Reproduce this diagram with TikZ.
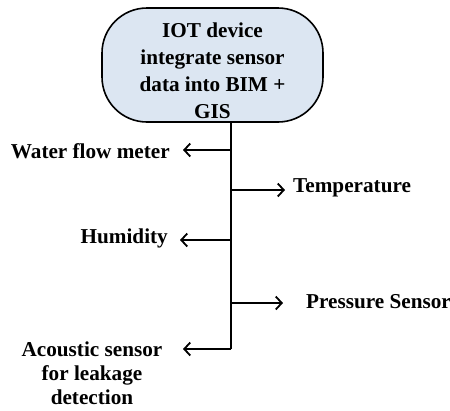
\documentclass[tikz,border=0pt]{standalone}
\usepackage{fontspec}
\setmainfont{Liberation Serif}
\usetikzlibrary{arrows.meta}
\definecolor{boxfill}{HTML}{DCE6F2}
\tikzset{
  box/.style={draw=black, line width=1.6pt, fill=boxfill, rounded corners=45pt,
    minimum width=221pt, minimum height=114pt, inner sep=0pt, align=center,
    font=\fontsize{21.2}{27}\selectfont\bfseries},
  lbl/.style={inner sep=0pt, font=\fontsize{21.2}{24}\selectfont\bfseries},
  conn/.style={line width=1.8pt},
  arr/.style={line width=1.8pt, -{Straight Barb[length=6pt,width=13pt,line width=1.8pt]}}
}
\begin{document}
\begin{tikzpicture}[x=1pt,y=-1pt]
\useasboundingbox (0,0) rectangle (450,410);
\node[box] (iot) at (212.5,65) {\rule{0pt}{26pt}IOT device\\integrate sensor\\data into BIM +\\GIS};
\coordinate (b1) at (231,150);
\coordinate (b2) at (231,190);
\coordinate (b3) at (231,240);
\coordinate (b4) at (231,303);
\coordinate (b5) at (231,349);
\coordinate (e1) at (183,150);
\coordinate (e2) at (285,190);
\coordinate (e3) at (180,240);
\coordinate (e4) at (283,303);
\coordinate (e5) at (183,349);
\draw[conn] (iot.south -| b5) -- (b5);
\node[lbl, anchor=east] (wfm) at (170,151) {Water flow meter};
\node[lbl, anchor=west] (temp) at (293,188) {Temperature};
\node[lbl, anchor=east] (hum) at (168,238) {Humidity};
\node[lbl, anchor=west] (pres) at (306,302) {Pressure Sensor};
\node[lbl, anchor=north, align=center] (acou) at (92,342) {Acoustic sensor\\for leakage\\detection};
\draw[arr] (b1) -- (e1);
\draw[arr] (b2) -- (e2);
\draw[arr] (b3) -- (e3);
\draw[arr] (b4) -- (e4);
\draw[arr] (b5) -- (e5);
\end{tikzpicture}
\end{document}
